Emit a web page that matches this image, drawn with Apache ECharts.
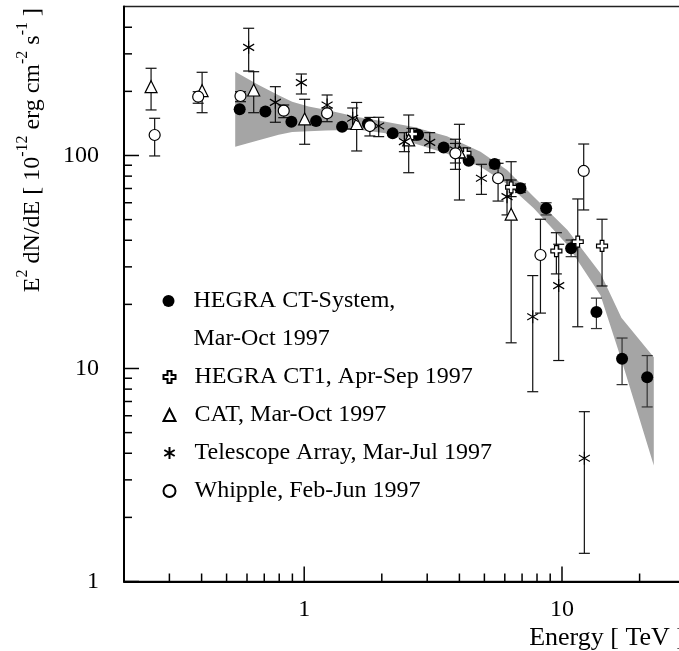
<!DOCTYPE html>
<html><head><meta charset="utf-8">
<script src="https://cdn.jsdelivr.net/npm/echarts@6/dist/echarts.min.js"></script>
<style>html,body{margin:0;padding:0;background:#fff}#c{width:679px;height:651px}</style>
</head><body><div id="c"></div>
<script>
const FONT = 'Liberation Serif';

// ---------- data ----------
const hegraE  = [0.562,0.707,0.892,1.112,1.403,1.766,2.204,2.766,3.476,4.346,5.48,6.90,8.68,10.85,13.6,17.1,21.4];
const hegraF  = [165,161,144,145,136.5,141,127,125,109,94.5,91.2,70.2,56.5,36.7,18.4,11.1,9.09];
const hegraLo = [null,null,null,null,null,null,null,null,null,null,87.4,67,52.6,33.5,15.4,8.4,6.6];
const hegraHi = [null,null,null,null,null,null,null,null,null,null,95.3,73.5,60.0,40.1,21.4,13.9,11.5];

const ct1E  = [2.62,4.22,6.35,9.51,11.51,14.3];
const ct1F  = [126,102.4,70.9,35.6,39.4,37.6];
const ct1Lo = [118,97.3,64.1,27.8,15.7,24.4];
const ct1Hi = [134,108.4,76.7,43.4,62.5,50.2];

const catE  = [0.2547,0.4018,0.637,1.004,1.598,2.543,4.0,6.35];
const catF  = [210.4,201.5,203,148.4,141.3,118.3,104,53];
const catLo = [163.6,158.8,158.8,112.9,105,83,61.8,13.2];
const catHi = [256.7,245.8,247.4,183.6,177.4,154.9,140.1,93.5];

const taE  = [0.609,0.773,0.975,1.227,1.542,1.945,2.447,3.068,3.86,4.87,6.12,7.70,9.71,12.21];
const taF  = [322,177.7,219.7,172.6,149.5,137.5,116.1,115.3,106.1,78.2,64.1,17.5,24.5,3.79];
const taLo = [249.2,143.2,194.4,154.9,133.2,122.6,104.2,103.1,86.1,65.7,52.6,7.78,10.9,1.356];
const taHi = [395.6,210.4,241.3,192.3,167.1,151.1,128,128,119.2,90.9,76.7,27.3,38.3,6.27];

const whE  = [0.263,0.388,0.566,0.833,1.227,1.798,3.86,5.65,8.25,12.14];
const whF  = [124.8,188.8,190.2,162.3,157.8,137.5,102.4,78.2,34.1,84.6];
const whLo = [99.5,175.9,178.9,150.5,144.1,123.5,92.2,61.1,18.2,55.5];
const whHi = [149.5,199.3,199.3,172.6,167.1,150.9,113.9,91.9,50.2,113.2];

const bandE  = [0.54,0.666,0.796,0.898,1.04,1.21,1.63,2.07,2.66,3.58,4.83,6.12,7.77,10.5,14.1,17.0,22.7];
const bandHi = [247,214,192,179,170,164,151,144,136,123,104,85.5,64,44.7,28,17.3,11.3];
const bandLo = [110,118,125,129,130,131,132,127,114,102,88.6,73.5,56.5,38,22.1,11.0,3.5];

const xTickLabels = ['1','10'];
const yTickLabels = ['1','10','100'];
const xMajorTicks = [1,10];
const xMinorTicks = [0.3,0.4,0.5,0.6,0.7,0.8,0.9,2,3,4,5,6,7,8,9,20];
const yMajorTicks = [1,10,100];
const yMinorTicks = [2,3,4,5,6,7,8,9,20,30,40,50,60,70,80,90,200,300,400];

const seriesNames = ['HEGRA CT-System,','HEGRA CT1, Apr-Sep 1997','CAT, Mar-Oct 1997','Telescope Array, Mar-Jul 1997','Whipple, Feb-Jun 1997'];
const legendSecondLine = 'Mar-Oct 1997';
const xTitle = 'Energy [ TeV ]';

// ---------- helpers ----------
const X_MIN = 0.2, X_MAX = 30, Y_MIN = 1, Y_MAX = 500;
function zip(a,b){ return a.map((v,i)=>[v,b[i]]); }
function errData(e,lo,hi){ const out=[]; e.forEach((v,i)=>{ if(lo[i]!=null) out.push([v,lo[i],hi[i]]); }); return out; }
function labelFmt(list){ return function(v){ const l=Math.log10(v); if(Math.abs(l-Math.round(l))>1e-6) return ''; const s=String(Math.round(v)); return list.indexOf(s)>=0?s:''; }; }

const CAP = 5.5;
function errRender(color){
  return function(params, api){
    const x=api.value(0), lo=api.value(1), hi=api.value(2);
    const p1=api.coord([x,lo]), p2=api.coord([x,hi]);
    const st={stroke:color,lineWidth:1.2};
    return {type:'group',children:[
      {type:'line',shape:{x1:p1[0],y1:p1[1],x2:p2[0],y2:p2[1]},style:st},
      {type:'line',shape:{x1:p1[0]-CAP,y1:p1[1],x2:p1[0]+CAP,y2:p1[1]},style:st},
      {type:'line',shape:{x1:p2[0]-CAP,y1:p2[1],x2:p2[0]+CAP,y2:p2[1]},style:st}
    ]};
  };
}

const crossPath = 'path://M-1,-3H1V-1H3V1H1V3H-1V1H-3V-1H-1Z';
const starPath  = 'path://M0,-5V5M-4.33,-2.5L4.33,2.5M-4.33,2.5L4.33,-2.5';

const option = {
  animation:false,
  backgroundColor:'#fff',
  grid:{left:124,top:6.6,width:561,height:574.9,show:true,borderColor:'#222',borderWidth:1.5,backgroundColor:'transparent',
        containLabel:false,outerBoundsMode:'none'},
  xAxis:{type:'log',logBase:10,min:X_MIN,max:X_MAX,
    axisLine:{show:true,onZero:false,lineStyle:{color:'#000',width:2}},
    axisTick:{show:false},splitLine:{show:false},
    axisLabel:{formatter:labelFmt(xTickLabels),fontFamily:FONT,fontSize:24,color:'#000',margin:16}},
  yAxis:{type:'log',logBase:10,min:Y_MIN,max:Y_MAX,
    axisLine:{show:true,onZero:false,lineStyle:{color:'#000',width:2}},
    axisTick:{show:false},splitLine:{show:false},
    axisLabel:{formatter:labelFmt(yTickLabels),fontFamily:FONT,fontSize:24,color:'#000',margin:25}},
  legend:[
    {data:[seriesNames[0]],orient:'vertical',left:162.5,top:289,padding:0,itemWidth:12,itemHeight:12,selectedMode:false,
     textStyle:{fontFamily:FONT,fontSize:24,color:'#000',lineHeight:24,padding:[0,0,0,14]}},
    {data:seriesNames.slice(1),orient:'vertical',left:162.5,top:365,padding:0,itemWidth:12,itemHeight:12,itemGap:14,selectedMode:false,
     textStyle:{fontFamily:FONT,fontSize:24,color:'#000',lineHeight:24,padding:[0,0,0,14]}}
  ],
  graphic:[
    {type:'text',left:193.5,top:339-12,style:{text:legendSecondLine,font:'24px "Liberation Serif"',fill:'#000'}},
    {type:'text',x:685,y:638,style:{text:xTitle,font:'26px "Liberation Serif"',fill:'#000',align:'right',verticalAlign:'middle'}},
    {type:'text',x:30,y:8,rotation:Math.PI/2,style:{
      text:'{m|E}{s|2}{m| dN/dE [ 10}{s|-12}{m| erg cm}{s|-2}{m| s}{s|-1}{m| ]}',
      align:'right',verticalAlign:'middle',
      rich:{m:{fontFamily:FONT,fontSize:24,fill:'#000',verticalAlign:'bottom',lineHeight:30},
            s:{fontFamily:FONT,fontSize:16,fill:'#000',verticalAlign:'top',lineHeight:30}}}}
  ],
  series:[
    {name:'band',type:'custom',z:1,silent:true,data:[[1,1]],clip:true,
     renderItem:function(params,api){
       const pts=[];
       for(let i=0;i<bandE.length;i++) pts.push(api.coord([bandE[i],bandHi[i]]));
       for(let i=bandE.length-1;i>=0;i--) pts.push(api.coord([bandE[i],bandLo[i]]));
       return {type:'polygon',shape:{points:pts},style:{fill:'#a5a5a5'}};
     }},
    {name:'xticks',type:'custom',z:2,silent:true,
     data:xMajorTicks.map(v=>[v,15]).concat(xMinorTicks.map(v=>[v,8])),
     renderItem:function(params,api){
       const p=api.coord([api.value(0),Y_MIN]); const L=api.value(1);
       return {type:'line',shape:{x1:p[0],y1:p[1],x2:p[0],y2:p[1]-L},style:{stroke:'#000',lineWidth:1.5}};
     }},
    {name:'yticks',type:'custom',z:2,silent:true,
     data:yMajorTicks.map(v=>[v,15]).concat(yMinorTicks.map(v=>[v,8])),
     renderItem:function(params,api){
       const p=api.coord([X_MIN,api.value(0)]); const L=api.value(1);
       return {type:'line',shape:{x1:p[0],y1:p[1],x2:p[0]+L,y2:p[1]},style:{stroke:'#000',lineWidth:1.5}};
     },encode:{x:1,y:0}},
    {name:'errHEGRA',type:'custom',z:3,silent:true,data:errData(hegraE,hegraLo,hegraHi),renderItem:errRender('#333'),encode:{x:0,y:[1,2]}},
    {name:'errCT1',type:'custom',z:3,silent:true,data:errData(ct1E,ct1Lo,ct1Hi),renderItem:errRender('#111'),encode:{x:0,y:[1,2]}},
    {name:'errCAT',type:'custom',z:3,silent:true,data:errData(catE,catLo,catHi),renderItem:errRender('#111'),encode:{x:0,y:[1,2]}},
    {name:'errTA',type:'custom',z:3,silent:true,data:errData(taE,taLo,taHi),renderItem:errRender('#111'),encode:{x:0,y:[1,2]}},
    {name:'errWh',type:'custom',z:3,silent:true,data:errData(whE,whLo,whHi),renderItem:errRender('#111'),encode:{x:0,y:[1,2]}},
    {name:seriesNames[0],type:'scatter',z:5,data:zip(hegraE,hegraF),symbol:'circle',symbolSize:12,itemStyle:{color:'#000',opacity:1}},
    {name:seriesNames[1],type:'scatter',z:5,data:zip(ct1E,ct1F),symbol:crossPath,symbolSize:11,itemStyle:{color:'#fff',borderColor:'#000',borderWidth:1.2,opacity:1}},
    {name:seriesNames[2],type:'scatter',z:5,data:zip(catE,catF),symbol:'triangle',symbolSize:12,itemStyle:{color:'#fff',borderColor:'#000',borderWidth:1.2,opacity:1}},
    {name:seriesNames[3],type:'scatter',z:5,data:zip(taE,taF),symbol:starPath,symbolSize:[11,13],itemStyle:{color:'rgba(0,0,0,0)',borderColor:'#000',borderWidth:1.2,opacity:1}},
    {name:seriesNames[4],type:'scatter',z:5,data:zip(whE,whF),symbol:'circle',symbolSize:11,itemStyle:{color:'#fff',borderColor:'#000',borderWidth:1.2,opacity:1}}
  ]
};
const chart = echarts.init(document.getElementById('c'),null,{renderer:'canvas'});
chart.setOption(option);
</script></body></html>
